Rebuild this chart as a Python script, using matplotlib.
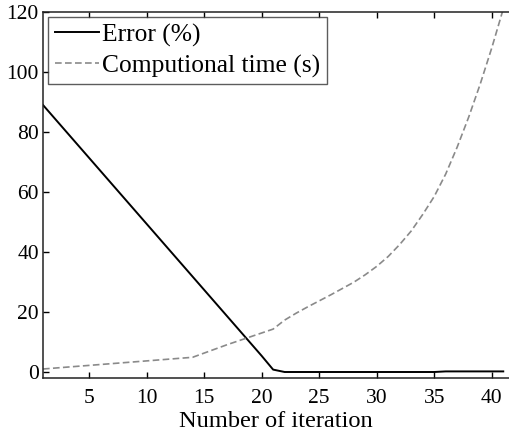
import matplotlib
matplotlib.use("Agg")
import matplotlib.pyplot as plt

plt.rcParams['font.family'] = ['Liberation Serif', 'DejaVu Serif']

# iteration index
iterations = list(range(1, 42))

# error in percent
error_pct = [89.0, 84.6, 80.2, 75.8, 71.4, 67.0, 62.6, 58.2, 53.8, 49.4,
             45.0, 40.6, 36.2, 31.8, 27.4, 23.0, 18.6, 14.2, 9.8, 5.4,
             0.8, 0.0, 0.0, 0.0, 0.0, 0.0, 0.0, 0.0, 0.0, 0.0,
             0.0, 0.0, 0.0, 0.0, 0.0, 0.2, 0.2, 0.2, 0.2, 0.2, 0.2]

# computational time in seconds
comp_time = [1.0, 1.3, 1.6, 1.9, 2.2, 2.5, 2.8, 3.1, 3.4, 3.7,
             4.0, 4.3, 4.6, 4.9, 6.3, 7.7, 9.1, 10.4, 11.7, 13.0,
             14.3, 17.3, 19.6, 21.7, 23.7, 25.7, 27.8, 29.9, 32.4, 35.2,
             38.5, 42.5, 47.0, 52.5, 58.5, 66.0, 75.0, 85.0, 96.0, 108.0, 121.0]

x_ticks = [5, 10, 15, 20, 25, 30, 35, 40]
y_ticks = [0, 20, 40, 60, 80, 100, 120]

fig = plt.figure(figsize=(5.09, 4.34), dpi=100)
ax = fig.add_axes([43 / 509, 1 - 378 / 434, 1 - 43 / 509, (378 - 12) / 434])

ax.plot(iterations, error_pct, color='black', lw=1.4, label='Error (%)')
ax.plot(iterations, comp_time, color='#8a8a8a', lw=1.2, dashes=(4, 2),
        label='Computional time (s)')

ax.set_xlim(1, 41.5)
ax.set_ylim(-2, 120)
ax.set_xticks(x_ticks)
ax.set_yticks(y_ticks)
ax.tick_params(direction='in', length=4, width=1, labelsize=15.5,
               top=True, right=False, colors='black')
ax.tick_params(axis='x', pad=8)
ax.tick_params(axis='y', pad=3)
ax.spines['right'].set_visible(False)
for s in ['left', 'bottom', 'top']:
    ax.spines[s].set_linewidth(1.1)
    ax.spines[s].set_color('#222222')

ax.set_xlabel('Number of iteration', fontsize=17.6, labelpad=2)

leg = ax.legend(loc='upper left', fontsize=18.4, frameon=True, fancybox=False,
                handlelength=1.75, handletextpad=0.12, borderpad=0.25,
                labelspacing=0.3, borderaxespad=0.2)
leg.get_frame().set_edgecolor('#333333')
leg.get_frame().set_linewidth(1.0)

fig.savefig('out.png', dpi=100)
